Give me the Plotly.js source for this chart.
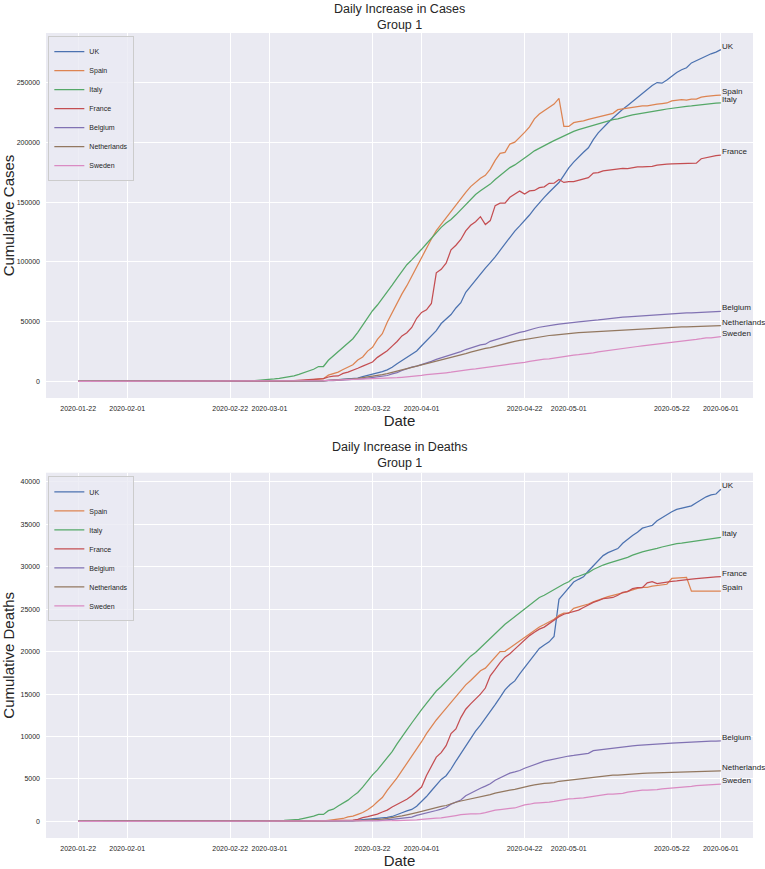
<!DOCTYPE html>
<html><head><meta charset="utf-8">
<script src="https://cdn.plot.ly/plotly-3.0.1.min.js"></script>
<style>html,body{margin:0;padding:0;background:#fff}#chart{width:765px;height:869px}</style>
</head><body><div id="chart"></div>
<script>
const countries = ['UK','Spain','Italy','France','Belgium','Netherlands','Sweden'];
const colors = ['#4C72B0','#DD8452','#55A868','#C44E52','#8172B3','#937860','#DA8BC3'];
const startDate = '2020-01-22';
const nDays = 132;
const tickDates = ['2020-01-22','2020-02-01','2020-02-22','2020-03-01','2020-03-22','2020-04-01','2020-04-22','2020-05-01','2020-05-22','2020-06-01'];

// ---- cumulative cases (Jan 22 .. Jun 1) ----
const casesUK = [
0,0,0,0,0,0,0,0,0,2,
2,2,2,2,2, 3,3,3, 4, 8,8,8, 9,9,9,9,9,9,9,9,9,9,9,9, 13,13,15,20,23,
36,40,51,86,116,164,207,274,322,384,459,459,802,1144,1145,1551,1960,2642,2716,4014,5067,5745,6726,8164,9640,11812,14745,17312,19780,22453,25481,
29865,34173,38689,42477,48436,52279,55949,61474,65872,74605,79874,85206,89570,94845,99483,104145,109769,115314,121172,125856,130172,134638,139246,144640,149569,154037,158348,162350,166441,172481,
178685,183500,187842,191832,195524,202359,207977,212629,216525,220449,224332,227741,230985,234440,238004,241461,244995,247709,250138,249619,252246,255544,258504,260916,262547,266599,268619,270508,272607,274219,275593,
277736];
const casesSpain = [
0,0,0,0,0,0,0,0,0,0,
1,1,1,1,1,1,1,1, 2,2,2,2,2,2,2,2,2,2,2,2,2,2,2,2, 6,13,15,32,45,
84,120,165,222,259,400,500,673,1073,1695,2277,2277,5232,6391,7798,9942,11748,13910,17963,20410,25374,28603,35136,39885,49515,57786,65719,73235,80110,87956,95923,
104118,112065,119199,126168,131646,136675,141942,148220,153222,158273,163027,166831,170099,172541,177644,184948,190839,191726,198674,200210,204178,208389,213024,219764,223759,226629,229422,232128,236899,213435,
213435,216582,217466,218011,219329,220325,221447,222857,223578,224350,227436,228030,228691,229540,230183,230698,230698,231606,232037,232555,233037,234824,235290,235772,235400,236259,236259,237906,238564,239228,239479,
239638];
const casesItaly = [
0,0,0,0,0,0,0,0,0,2,
2,2,2,2,2,2, 3,3,3,3,3,3,3,3,3,3,3,3,3,3, 20,62,155,229,322,453,655,888,1128,
1694,2036,2502,3089,3858,4636,5883,7375,9172,10149,12462,12462,17660,21157,24747,27980,31506,35713,41035,47021,53578,59138,63927,69176,74386,80589,86498,92472,97689,101739,105792,
110574,115242,119827,124632,128948,132547,135586,139422,143626,147577,152271,156363,159516,162488,165155,168941,172434,175925,178972,181228,183957,187327,189973,192994,195351,197675,199414,201505,203591,205463,
207428,209328,210717,211938,213013,214457,215858,217185,218268,219070,219814,221216,222104,223096,223885,224760,225435,225886,226699,227364,228006,228658,229327,229858,230158,230555,231139,231732,232248,232664,232997,
233197];
const casesFrance = [
0,0,2,3,3,3,4,5,5,5,
6,6,6,6,6,6,6, 11,11,11,11,11,11,11, 12,12,12,12,12,12,12,12,12,12, 14,18,38,57,100,
130,191,204,288,380,656,959,1136,1219,1794,2293,2293,3681,4496,4532,6683,7715,9124,10970,12758,14463,16243,20123,22622,25600,29551,33402,38105,40708,45170,52827,
57749,59929,65202,90848,93773,98957,110065,113959,118781,125931,130727,133677,137875,131361,134582,147091,149130,149149,154097,156480,159297,156921,159460,159828,162220,162894,165842,165911,169053,166543,
167299,167305,168518,169462,170551,174318,174758,176202,176782,177094,177547,178349,178184,178994,179630,179630,179693,180051,180933,181700,181951,182036,182219,182469,182847,183067,182722,186364,187265,188625,188975,
189348];
const casesBelgium = [
0,0,0,0,0,0,0,0,0,0,
0,0,0, 1,1,1,1,1,1,1,1,1,1,1,1,1,1,1,1,1,1,1,1,1,1,1,1,1,1,
2,8,13,23,50,109,169,200,239,267,314,314,559,689,886,1058,1243,1486,1795,2257,2815,3401,3743,4269,4937,6235,7284,9134,10836,11899,12775,
13964,15348,16770,18431,19691,20814,22194,23403,24983,26667,28018,29647,30589,31119,33573,34809,36138,37183,38496,39983,40956,41889,42797,44293,45325,46134,46687,47334,47859,48519,
49032,49517,49906,50267,50509,50781,51420,52011,52596,53081,53449,53779,53981,54288,54644,54989,55280,55559,55791,55983,56235,56511,56810,57092,57342,57455,57592,57849,58061,58381,58517,
58615];
const casesNetherlands = [
0,0,0,0,0,0,0,0,0,0,
0,0,0,0,0,0,0,0,0,0,0,0,0,0,0,0,0,0,0,0,0,0,0,0,0,0, 1,1,6,
10,18,24,38,82,128,188,265,321,382,503,503,806,962,1138,1416,1711,2058,2467,3003,3640,4217,4764,5580,6438,7468,8647,9819,10930,11817,12667,
13696,14788,15821,17000,17962,18926,19709,20682,21903,23249,24571,25746,26710,27580,28316,29383,30619,31766,32838,33588,34317,35032,35921,36729,37384,37981,38416,38802,39316,39791,
40236,40571,40770,41087,41319,41774,42093,42382,42627,42788,42984,43211,43481,43681,43870,44141,44249,44447,44700,44888,45064,45236,45445,45578,45647,45768,45950,46126,46257,46442,46545,
46647];
const casesSweden = [
0,0,0,0,0,0,0,0,0,1,
1,1,1,1,1,1,1,1,1,1,1,1,1,1,1,1,1,1,1,1,1,1,1,1,1, 2,7,7,12,
14,15,21,35,94,101,161,203,248,355,500,599,814,961,1022,1103,1190,1279,1439,1639,1763,1934,2046,2286,2526,2840,3069,3447,3700,4028,4435,
4947,5568,6131,6443,6830,7206,7693,8419,9141,9685,10151,10483,10948,11445,11927,12540,13216,13822,14385,14777,15322,16004,16755,17567,18177,18640,18926,19621,20302,21092,
21520,22082,22317,22721,23216,23918,24623,25265,25921,26322,26670,27272,27909,28582,29207,29677,30143,30377,30799,31523,32172,32809,33188,33459,33843,34440,35088,35727,36476,36476,37113,
37542];

// ---- cumulative deaths (Jan 22 .. Jun 1) ----
const deathsUK = [
0,0,0,0,0,0,0,0,0,0,
0,0,0,0,0,0,0,0,0,0,0,0,0,0,0,0,0,0,0,0,0,0,0,0,0,0,0,0,0,
0,0,0,0,1,2,2,3,4,6,8,8,8,21,21,56,56,72,138,178,234,282,336,423,466,580,761,1021,1231,1411,1793,
2357,2926,3611,4320,4943,5385,6171,7111,7993,8974,9892,10629,11347,12129,12894,13759,14607,15498,16095,16550,17378,18151,18791,19567,20381,20794,21157,21787,26166,26842,
27583,28205,28520,28809,29501,30150,30689,31316,31662,31930,32141,32769,33264,33693,34078,34546,34716,34876,35422,35786,36124,36475,36757,36875,37048,37182,37542,37919,38243,38458,38571,
39127];
const deathsSpain = [
0,0,0,0,0,0,0,0,0,0,
0,0,0,0,0,0,0,0,0,0,0,0,0,0,0,0,0,0,0,0,0,0,0,0,0,0,0,0,0,
0,0,1,2,3,5,10,17,28,35,54,55,133,195,289,342,533,623,830,1043,1375,1772,2311,2808,3647,4365,5138,5982,6803,7716,8464,
9387,10348,11198,11947,12641,13341,14045,14792,15447,16081,16606,17209,17756,18056,18708,19315,20002,20043,20453,20852,21282,21717,22157,22524,22902,23190,23521,23822,24275,24543,
24543,25100,25264,25428,25613,25857,26070,26299,26478,26621,26744,26920,27104,27321,27459,27563,27563,27709,27778,27888,27940,28628,28678,28752,28752,27117,27117,27119,27121,27125,27127,
27127];
const deathsItaly = [
0,0,0,0,0,0,0,0,0,0,
0,0,0,0,0,0,0,0,0,0,0,0,0,0,0,0,0,0,0,0, 1,2,3,7,10,12,17,21,29,
34,52,79,107,148,197,233,366,463,631,827,827,1266,1441,1809,2158,2503,2978,3405,4032,4825,5476,6077,6820,7503,8215,9134,10023,10779,11591,12428,
13155,13915,14681,15362,15887,16523,17127,17669,18279,18849,19468,19899,20465,21067,21645,22170,22745,23227,23660,24114,24648,25085,25549,25969,26384,26644,26977,27359,27682,27967,
28236,28710,28884,29079,29315,29684,29958,30201,30395,30560,30739,30911,31106,31368,31610,31763,31908,32007,32169,32330,32486,32616,32735,32785,32877,32955,33072,33142,33229,33340,33415,
33475];
const deathsFrance = [
0,0,0,0,0,0,0,0,0,0,
0,0,0,0,0,0,0,0,0,0,0,0,0,0, 1,1,1,1,1,1,1,1,1,1,1, 2,2,2,2,
2,3,4,4,6,9,11,19,19,33,48,48,79,91,91,149,149,149,244,451,563,676,862,1102,1333,1698,1997,2317,2611,3030,3532,
4043,5398,6520,7574,8093,8926,10343,10887,12228,13215,13851,14412,14986,15712,17148,17901,18703,19345,19744,20292,20829,21373,21889,22279,22648,22890,23327,23694,24121,24410,
24594,24763,24900,25204,25537,25809,26000,26233,26313,26383,26646,26994,27077,27428,27532,27532,28111,28239,28022,28132,28218,28289,28332,28370,28460,28530,28599,28665,28717,28774,28805,
28836];
const deathsBelgium = [
0,0,0,0,0,0,0,0,0,0,
0,0,0,0,0,0,0,0,0,0,0,0,0,0,0,0,0,0,0,0,0,0,0,0,0,0,0,0,0,
0,0,0,0,0,0,0,0,0,0,3,3,3,4,4,5,10,14,21,37,67,75,88,122,178,220,289,353,431,513,705,
828,1011,1143,1283,1447,1632,2035,2240,2523,3019,3346,3600,3903,4157,4440,4857,5163,5453,5683,5828,5998,6262,6490,6679,6917,7094,7207,7331,7501,7594,
7703,7765,7844,7924,8016,8339,8415,8521,8581,8656,8707,8761,8843,8903,8959,9005,9052,9080,9108,9150,9186,9212,9237,9280,9312,9334,9364,9388,9430,9453,9467,
9486];
const deathsNetherlands = [
0,0,0,0,0,0,0,0,0,0,
0,0,0,0,0,0,0,0,0,0,0,0,0,0,0,0,0,0,0,0,0,0,0,0,0,0,0,0,0,
0,0,0,0,0,1,1,3,3,4,5,5,10,12,20,24,43,58,77,107,137,180,214,277,357,435,547,640,772,865,1040,
1175,1341,1490,1656,1771,1874,2108,2255,2403,2520,2653,2747,2833,2955,3145,3327,3471,3613,3697,3764,3929,4068,4191,4293,4409,4478,4518,4566,4727,4795,
4893,4987,5056,5082,5168,5204,5288,5359,5422,5440,5456,5510,5562,5590,5643,5670,5680,5694,5715,5748,5775,5788,5811,5822,5830,5856,5871,5903,5931,5951,5956,
5967];
const deathsSweden = [
0,0,0,0,0,0,0,0,0,0,
0,0,0,0,0,0,0,0,0,0,0,0,0,0,0,0,0,0,0,0,0,0,0,0,0,0,0,0,0,
0,0,0,0,0,0,0,0,0,0,1,1,1,2,3,6,7,10,11,16,20,21,25,36,62,77,105,105,110,146,180,
239,308,358,373,401,477,591,687,793,870,887,899,919,1033,1203,1333,1400,1511,1540,1580,1765,1937,2021,2152,2192,2194,2274,2355,2462,2586,
2653,2669,2679,2769,2854,2941,3040,3175,3220,3225,3256,3313,3460,3529,3646,3674,3679,3698,3743,3831,3871,3925,3992,3998,4029,4125,4220,4266,4350,4395,4395,
4403];

const casesSeries = [casesUK, casesSpain, casesItaly, casesFrance, casesBelgium, casesNetherlands, casesSweden];
const deathsSeries = [deathsUK, deathsSpain, deathsItaly, deathsFrance, deathsBelgium, deathsNetherlands, deathsSweden];

[...casesSeries, ...deathsSeries].forEach((s, i) => {
  if (s.length !== nDays) throw new Error('series ' + i + ' has length ' + s.length);
});

// consecutive daily dates
const dates = [];
const d0 = new Date(startDate + 'T00:00:00Z');
for (let i = 0; i < nDays; i++) {
  const d = new Date(d0.getTime() + i * 86400000);
  dates.push(d.toISOString().slice(0, 10));
}

const FONT = 'Liberation Sans, Arial, sans-serif';
const TXT = '#262626';

const traces = [];
const annotations = [];
function addGroup(series, xa, ya, legendName) {
  series.forEach((vals, i) => {
    traces.push({
      type: 'scatter', mode: 'lines', name: countries[i],
      x: dates, y: vals, xaxis: xa, yaxis: ya, legend: legendName,
      line: {color: colors[i], width: 1.25}
    });
    annotations.push({
      xref: xa, yref: ya, x: dates[dates.length - 1], y: vals[vals.length - 1],
      text: countries[i], showarrow: false, xanchor: 'left', yanchor: 'bottom',
      yshift: -3, xshift: -1, font: {family: FONT, size: 8, color: TXT}
    });
  });
}
addGroup(casesSeries, 'x', 'y', 'legend');
addGroup(deathsSeries, 'x2', 'y2', 'legend2');

const chartTitles = ['Daily Increase in Cases<br>Group 1', 'Daily Increase in Deaths<br>Group 1'];
[1.0404, 0.4965].forEach((yy, k) => {
  annotations.push({
    xref: 'paper', yref: 'paper', x: 0.5, y: yy, xanchor: 'center', yanchor: 'top',
    text: chartTitles[k], showarrow: false,
    font: {family: FONT, size: 12.5, color: TXT}
  });
});

function xAxis(anchor) {
  return {
    type: 'date', anchor: anchor,
    range: ['2020-01-15 10:48', '2020-06-07 13:12'],
    tickvals: tickDates, ticktext: tickDates,
    showgrid: true, gridcolor: '#ffffff', gridwidth: 1,
    zeroline: false, showline: false, ticks: '',
    ticklabelstandoff: 5,
    tickfont: {family: FONT, size: 7, color: TXT},
    title: {text: 'Date', font: {family: FONT, size: 15, color: TXT}, standoff: 2}
  };
}
function yAxis(anchor, domain, range, dtick, title) {
  return {
    anchor: anchor, domain: domain, range: range, dtick: dtick, tick0: 0,
    tickformat: 'd',
    showgrid: true, gridcolor: '#ffffff', gridwidth: 1,
    zeroline: false, showline: false, ticks: '',
    ticklabelstandoff: 5,
    tickfont: {family: FONT, size: 7, color: TXT},
    title: {text: title, font: {family: FONT, size: 15, color: TXT}, standoff: 3}
  };
}

const legendStyle = {
  xanchor: 'left', yanchor: 'top', xref: 'paper', yref: 'paper', itemwidth: 30,
  bgcolor: 'rgba(234,234,242,0.8)', bordercolor: '#cccccc', borderwidth: 1,
  font: {family: FONT, size: 7, color: TXT}
};

const layout = {
  width: 765, height: 869,
  margin: {l: 46, r: 12, t: 33, b: 31},
  paper_bgcolor: '#ffffff', plot_bgcolor: '#EAEAF2',
  font: {family: FONT, color: TXT},
  xaxis: xAxis('y'),
  yaxis: yAxis('x', [0.5466, 1], [-13887, 291623], 50000, 'Cumulative Cases'),
  xaxis2: xAxis('y2'),
  yaxis2: yAxis('x2', [0, 0.4538], [-1956, 41083], 5000, 'Cumulative Deaths'),
  showlegend: true,
  legend: Object.assign({x: 0.0033, y: 0.996}, legendStyle),
  legend2: Object.assign({x: 0.0033, y: 0.4492}, legendStyle),
  annotations: annotations
};

Plotly.newPlot('chart', traces, layout, {displayModeBar: false, staticPlot: true});
</script>
</body></html>
